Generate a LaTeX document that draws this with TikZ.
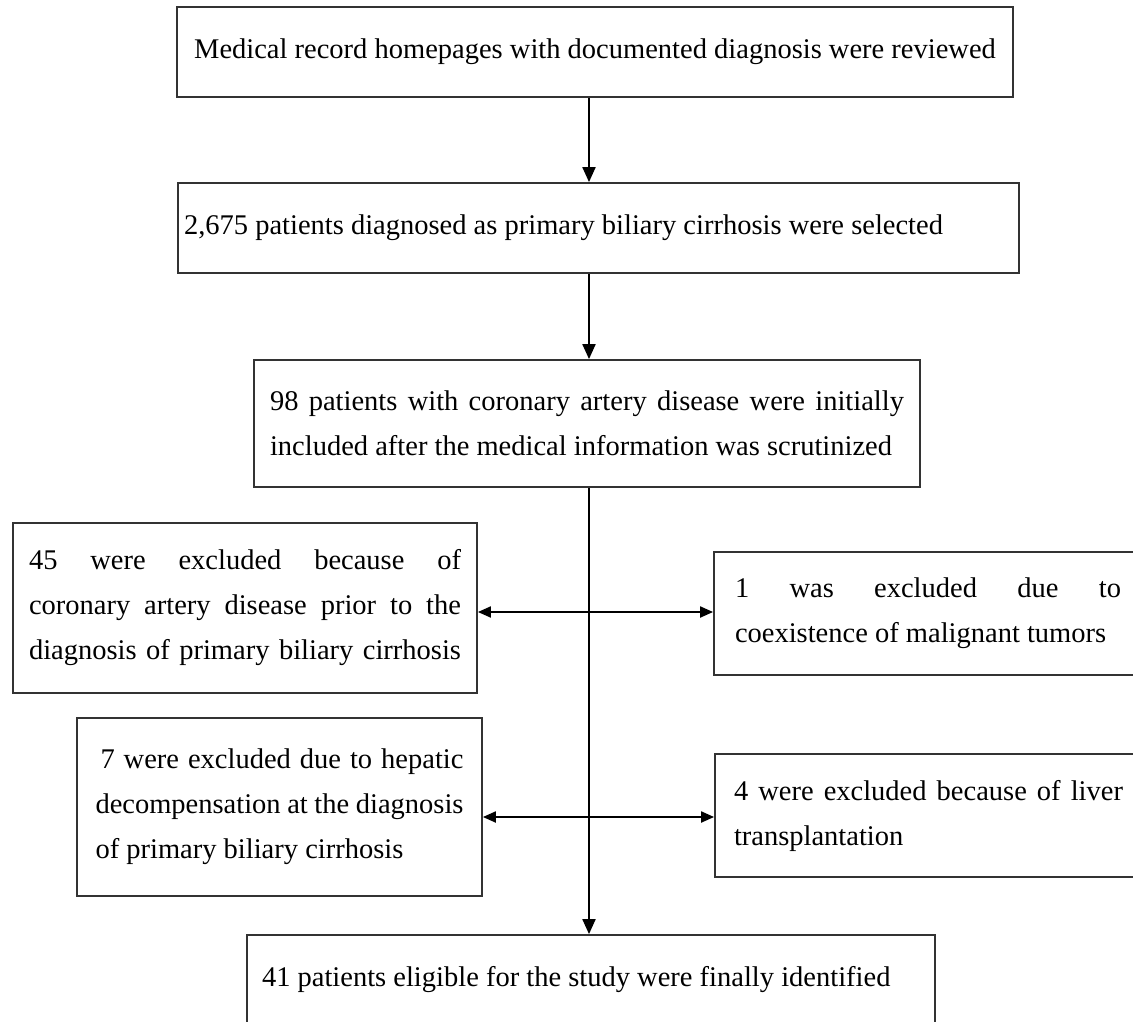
\documentclass[tikz,border=0pt]{standalone}
\usepackage{fontspec}
\setmainfont{Liberation Serif}
\usetikzlibrary{arrows.meta}
\begin{document}
\begin{tikzpicture}[x=1pt,y=-1pt,
  boxst/.style={draw=black!80,line width=1.8pt,rectangle,inner sep=0pt,align=left,
    font=\fontsize{28.5}{45}\selectfont},
  arr/.style={line width=2pt,-{Triangle[length=15pt,width=13pt]}},
  darr/.style={line width=2pt,{Triangle[length=13pt,width=11pt]}-{Triangle[length=13pt,width=11pt]}}]
\path[use as bounding box,fill=white] (0,0) rectangle (1133,1022);
\clip (0,0) rectangle (1133,1022);
\coordinate (tx) at (589,0);
\node[boxst,minimum width=836pt,minimum height=90pt] (b1) at (595,52)
  {\raisebox{-2pt}{Medical record homepages with documented diagnosis were reviewed}};
\node[boxst,minimum width=841pt,minimum height=90pt] (b2) at (598.5,228)
  {\makebox[829pt][l]{\raisebox{-2pt}{2,675 patients diagnosed as primary biliary cirrhosis were selected}}};
\node[boxst,minimum width=666pt,minimum height=127pt] (b3) at (587,423.5)
  {\makebox[634pt][s]{98 patients with coronary artery disease were initially}\\
   \makebox[634pt][l]{included after the medical information was scrutinized}};
\node[boxst,minimum width=464pt,minimum height=170pt] (b4) at (245,608)
  {\makebox[432pt][s]{45 were excluded because of}\\
   \makebox[432pt][s]{coronary artery disease prior to the}\\
   \makebox[432pt][s]{diagnosis of primary biliary cirrhosis}};
\node[boxst,minimum width=428pt,minimum height=123pt] (b5) at (928,613.5)
  {\makebox[386pt][s]{1 was excluded due to}\\
   \makebox[386pt][l]{coexistence of malignant tumors}};
\node[boxst,minimum width=405pt,minimum height=178pt] (b6) at (279.5,807)
  {\makebox[368pt][s]{\hspace{5pt}7 were excluded due to hepatic}\\
   \makebox[368pt][s]{decompensation at the diagnosis}\\
   \makebox[368pt][l]{of primary biliary cirrhosis}};
\node[boxst,minimum width=427pt,minimum height=123pt] (b7) at (928.5,815.5)
  {\makebox[389pt][s]{4 were excluded because of liver}\\
   \makebox[389pt][l]{transplantation}};
\node[boxst,minimum width=688pt,minimum height=90pt] (b8) at (591,980)
  {\makebox[658pt][l]{\raisebox{-2pt}{41 patients eligible for the study were finally identified}}};
\draw[arr] (b1.south -| tx) -- (b2.north -| tx);
\draw[arr] (b2.south -| tx) -- (b3.north -| tx);
\draw[arr] (b3.south -| tx) -- (b8.north -| tx);
\coordinate (j1) at (589,612);
\coordinate (j2) at (589,817);
\draw[darr] (b4.east |- j1) -- (b5.west |- j1);
\draw[darr] (b6.east |- j2) -- (b7.west |- j2);
\end{tikzpicture}
\end{document}
